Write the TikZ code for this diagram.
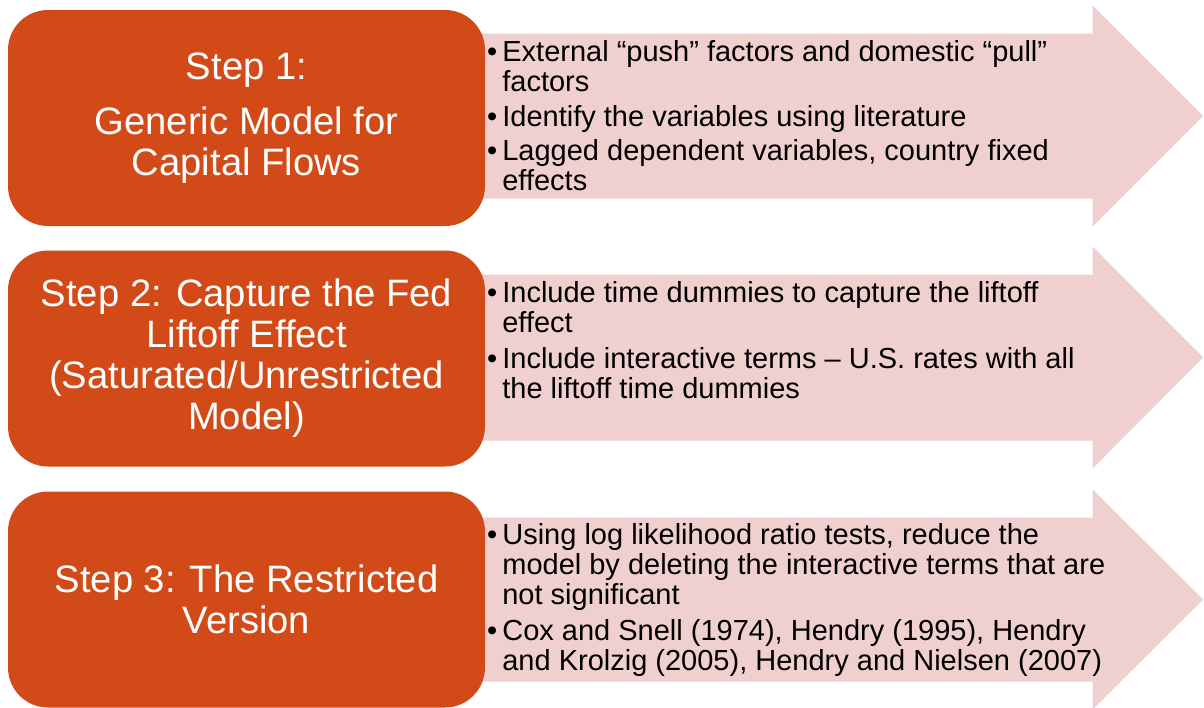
\documentclass[tikz,border=0pt]{standalone}
\usepackage{fontspec}
\setmainfont{Liberation Sans}
\definecolor{stepOrange}{RGB}{209,74,24}
\definecolor{arrowPink}{RGB}{240,208,206}
\begin{document}
\begin{tikzpicture}[x=1pt,y=-1pt,
  stepbox/.style={fill=stepOrange, rounded corners=40pt, minimum width=477pt, minimum height=216pt,
    text=white, align=center, font=\fontsize{38.2}{41}\selectfont, inner sep=0pt},
  arrowshape/.style={fill=arrowPink, draw=white, line width=1pt},
  bullets/.style={anchor=north west, inner sep=0pt, text=black, font=\fontsize{29}{30}\selectfont}]
\useasboundingbox (0,0) rectangle (1204,707);
\fill[white] (0,0) rectangle (1204,707);
% arrows
\path[arrowshape] (480,33) -- (1092,33) -- (1092,4) -- (1204,116) -- (1092,228) -- (1092,199) -- (480,199) -- cycle;
\path[arrowshape] (480,274) -- (1092,274) -- (1092,245) -- (1204,357.5) -- (1092,470) -- (1092,441) -- (480,441) -- cycle;
\path[arrowshape] (480,517) -- (1092,517) -- (1092,488) -- (1204,599.5) -- (1092,711) -- (1092,682) -- (480,682) -- cycle;
% step boxes
\node[stepbox] (s1) at (246.5,118) {Step 1:\\[14pt]Generic Model for\\Capital Flows};
\node[stepbox] (s2) at (246.5,358.5) {Step 2: Capture the Fed\\Liftoff Effect\\(Saturated/Unrestricted\\Model)};
\node[stepbox] (s3) at (246.5,599.5) {Step 3: The Restricted\\Version};
% bullet texts
\node[bullets] (t1) at (487,40) {\begin{tabular}{@{}l@{\hspace{5pt}}l@{}}
•&External “push” factors and domestic “pull”\\
 &factors\\[5pt]
•&Identify the variables using literature\\[4pt]
•&Lagged dependent variables, country fixed\\
 &effects
\end{tabular}};
\node[bullets] (t2) at (487,281) {\begin{tabular}{@{}l@{\hspace{5pt}}l@{}}
•&Include time dummies to capture the liftoff\\
 &effect\\[6pt]
•&Include interactive terms – U.S. rates with all\\
 &the liftoff time dummies
\end{tabular}};
\node[bullets] (t3) at (487,523) {\begin{tabular}{@{}l@{\hspace{5pt}}l@{}}
•&Using log likelihood ratio tests, reduce the\\
 &model by deleting the interactive terms that are\\
 &not significant\\[6pt]
•&Cox and Snell (1974), Hendry (1995), Hendry\\
 &and Krolzig (2005), Hendry and Nielsen (2007)
\end{tabular}};
\end{tikzpicture}
\end{document}
